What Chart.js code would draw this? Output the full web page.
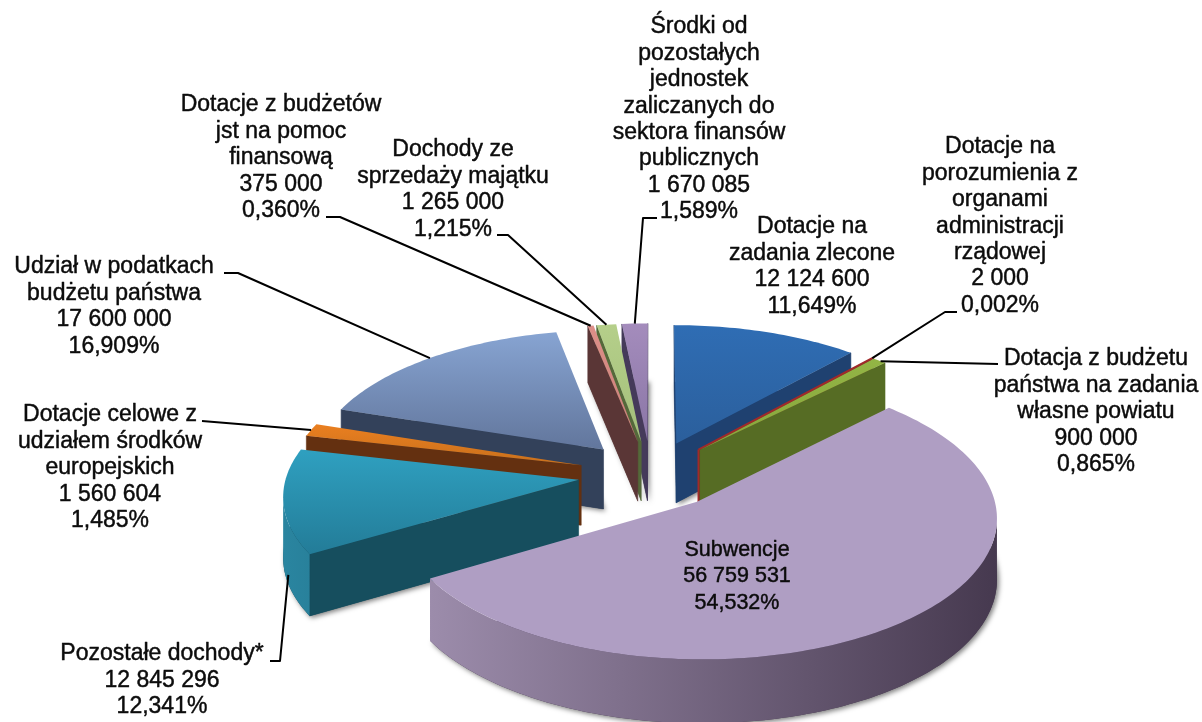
<!DOCTYPE html>
<html><head><meta charset="utf-8">
<style>html,body{margin:0;padding:0;background:#fff;overflow:hidden}canvas{display:block}</style>
<script src="https://cdn.jsdelivr.net/npm/chart.js@4"></script>
</head><body><canvas id="c" width="1202" height="722"></canvas>
<script>
// ---- data ----
const categories = ["Dotacje na zadania zlecone","Dotacje na porozumienia z organami administracji rządowej","Dotacja z budżetu państwa na zadania własne powiatu","Subwencje","Pozostałe dochody*","Dotacje celowe z udziałem środków europejskich","Udział w podatkach budżetu państwa","Dotacje z budżetów jst na pomoc finansową","Dochody ze sprzedaży majątku","Środki od pozostałych jednostek zaliczanych do sektora finansów publicznych"];
const values = [12124600,2000,900000,56759531,12845296,1560604,17600000,375000,1265000,1670085];
const valueTexts = ["12 124 600","2 000","900 000","56 759 531","12 845 296","1 560 604","17 600 000","375 000","1 265 000","1 670 085"];
const percentTexts = ["11,649%","0,002%","0,865%","54,532%","12,341%","1,485%","16,909%","0,360%","1,215%","1,589%"];
const nameLines = [
 ["Dotacje na","zadania zlecone"],
 ["Dotacje na","porozumienia z","organami","administracji","rządowej"],
 ["Dotacja z budżetu","państwa na zadania","własne powiatu"],
 ["Subwencje"],
 ["Pozostałe dochody*"],
 ["Dotacje celowe z","udziałem środków","europejskich"],
 ["Udział w podatkach","budżetu państwa"],
 ["Dotacje z budżetów","jst na pomoc","finansową"],
 ["Dochody ze","sprzedaży majątku"],
 ["Środki od","pozostałych","jednostek","zaliczanych do","sektora finansów","publicznych"]
];
// ---- styles ----
const topLight = ["#2f6db4","#a02a2a","#93b545","#af9ec3","#2fa0c0","#ea7f20","#87a4d2","#dd8f88","#b5cf8a","#a48cbc"];
const topDark  = ["#2b5f9c","#a02a2a","#86a63c","#af9ec3","#237c98","#c8701c","#62769c","#c9807a","#a3bf7a","#8a76a6"];
const wallDark = ["#1f4170","#7a1d1d","#566c24","#46394f","#164e5e","#643010","#33415a","#5a3636","#54693a","#453a5a"];
const wallArcL = ["#1f4170","#7a1d1d","#566c24","#9c8cab","#2a85a0","#643010","#33415a","#5a3636","#54693a","#453a5a"];
const wallArcR = ["#1f4170","#7a1d1d","#566c24","#46394f","#17566a","#643010","#33415a","#5a3636","#54693a","#453a5a"];
const labelCentres = [812,1000,1096,737,162,110,114,281,453,699];
const labelTops = [227,147,359,550,654,415,267,105,150,27];
const labelSizes = [23,23,23,21.5,23,23,23,23,23,23];
const leaderStarts = [null,[[957,312],[945,312]],[[998,364]],null,[[270,661],[280,661]],[[202,421]],[[224,273],[238,273]],[[326,217],[340,217]],[[497,235],[508,235]],[[657,218],[643,218]]];
const leaderAnchors = [null,[0.5,0],[0.6,0],null,[0.3,0.85],[0.5,0],[0.5,0],[0.5,0],[0.5,0],[0.5,0]];
// camera: projects the pie plane on the page
const cam = {cx:651, cy:474.5, rx:292, ry:136, k:0.1, explode:0.25, depth:60};
const lineGap = 26.4;

function project(X,Y){const w=1-cam.k*Y;return {x:cam.cx+cam.rx*X/w,y:cam.cy+cam.ry*Y/w,w};}
function lower(p,f){return {x:p.x,y:p.y+f*cam.depth/Math.sqrt(p.w),w:p.w};}
function sliceGeom(arc){
  const a0=arc.startAngle,a1=arc.endAngle,mid=(a0+a1)/2;
  const ox=Math.cos(mid)*cam.explode,oy=Math.sin(mid)*cam.explode;
  const n=Math.max(2,Math.ceil((a1-a0)/0.02));
  const pts=[];
  for(let i=0;i<=n;i++){const a=a0+(a1-a0)*i/n;pts.push(project(Math.cos(a)+ox,Math.sin(a)+oy));}
  return {apex:project(ox,oy),pts,mid,a0,a1,ox,oy};
}
function poly(ctx,list){ctx.beginPath();list.forEach((p,i)=>i?ctx.lineTo(p.x,p.y):ctx.moveTo(p.x,p.y));ctx.closePath();}
function drawSlice(ctx,g,i){
  const outline=[g.apex,...g.pts];
  const xs=outline.map(p=>p.x),ys=outline.map(p=>p.y);
  const minX=Math.min(...xs),maxX=Math.max(...xs),minY=Math.min(...ys),maxY=Math.max(...ys);
  // soft shadow of the extruded body
  ctx.save();
  ctx.shadowColor='rgba(0,0,0,.5)';ctx.shadowBlur=5;ctx.shadowOffsetX=2;ctx.shadowOffsetY=2;
  ctx.fillStyle=wallDark[i];
  poly(ctx,outline.map(p=>lower(p,1)));ctx.fill();
  ctx.restore();
  // radial walls: only faces turned to the viewer
  const edge=(p,q,c)=>{ if(q.x-p.x>=0) return; poly(ctx,[p,q,lower(q,1),lower(p,1)]);ctx.fillStyle=c;ctx.strokeStyle=c;ctx.lineWidth=0.6;ctx.fill();ctx.stroke();};
  edge(g.pts[g.pts.length-1],g.apex,wallDark[i]);
  edge(g.apex,g.pts[0],wallDark[i]);
  // outer wall: contiguous visible faces filled as one shape
  const grad=ctx.createLinearGradient(minX,0,maxX,0);
  grad.addColorStop(0,wallArcL[i]);grad.addColorStop(1,wallArcR[i]);
  let run=[];
  const flush=()=>{ if(run.length>1){poly(ctx,[...run,...run.slice().reverse().map(p=>lower(p,1))]);ctx.fillStyle=grad;ctx.fill();} run=[]; };
  for(let k=0;k<g.pts.length-1;k++){
    if(g.pts[k+1].x<g.pts[k].x){ if(!run.length)run.push(g.pts[k]); run.push(g.pts[k+1]); }
    else flush();
  }
  flush();
  // top surface
  const tg=ctx.createLinearGradient(0,minY,0,maxY);
  tg.addColorStop(0,topLight[i]);tg.addColorStop(1,topDark[i]);
  poly(ctx,outline);ctx.fillStyle=tg;ctx.fill();
  if(g.a1-g.a0<0.002){ // hairline slice
    ctx.strokeStyle=topLight[i];ctx.lineWidth=2;ctx.stroke();
    ctx.beginPath();ctx.moveTo(g.apex.x,g.apex.y);ctx.lineTo(g.apex.x,lower(g.apex,1).y);ctx.stroke();
  }
}
const pie3d={id:'pie3d',
  beforeDatasetsDraw(chart){
    const ctx=chart.ctx,arcs=chart.getDatasetMeta(0).data;
    const geoms=arcs.map(a=>sliceGeom(a.getProps(['startAngle','endAngle'],true)));
    const order=geoms.map((g,i)=>i).sort((p,q)=>Math.sin(geoms[p].mid)-Math.sin(geoms[q].mid));
    ctx.save();order.forEach(i=>drawSlice(ctx,geoms[i],i));ctx.restore();
    chart.$geoms=geoms;
    return false;
  },
  afterDraw(chart){
    const ctx=chart.ctx,geoms=chart.$geoms;
    ctx.save();
    ctx.strokeStyle='#000';ctx.lineWidth=2;ctx.lineJoin='round';
    leaderStarts.forEach((st,i)=>{
      if(!st)return;
      const g=geoms[i],[f,d]=leaderAnchors[i];
      const a=g.a0+(g.a1-g.a0)*f;
      const end=lower(project(Math.cos(a)+g.ox,Math.sin(a)+g.oy),d);
      ctx.beginPath();st.forEach((p,k)=>k?ctx.lineTo(p[0],p[1]):ctx.moveTo(p[0],p[1]));ctx.lineTo(end.x,end.y);ctx.stroke();
    });
    ctx.textAlign='center';ctx.textBaseline='middle';
    ctx.fillStyle='#0c0c0c';ctx.strokeStyle='#0c0c0c';ctx.lineWidth=0.45;
    categories.forEach((c,i)=>{
      ctx.font=labelSizes[i]+'px "Liberation Sans", Arial, sans-serif';
      const lines=[...nameLines[i],valueTexts[i],percentTexts[i]];
      lines.forEach((t,k)=>{const y=labelTops[i]+k*lineGap;ctx.fillText(t,labelCentres[i],y);ctx.strokeText(t,labelCentres[i],y);});
    });
    ctx.restore();
  }
};
new Chart(document.getElementById('c'),{
  type:'pie',
  data:{labels:categories,datasets:[{data:values,backgroundColor:topLight,borderWidth:0}]},
  options:{responsive:false,animation:false,rotation:0,
    plugins:{legend:{display:false},tooltip:{enabled:false}}},
  plugins:[pie3d]
});
</script></body></html>
